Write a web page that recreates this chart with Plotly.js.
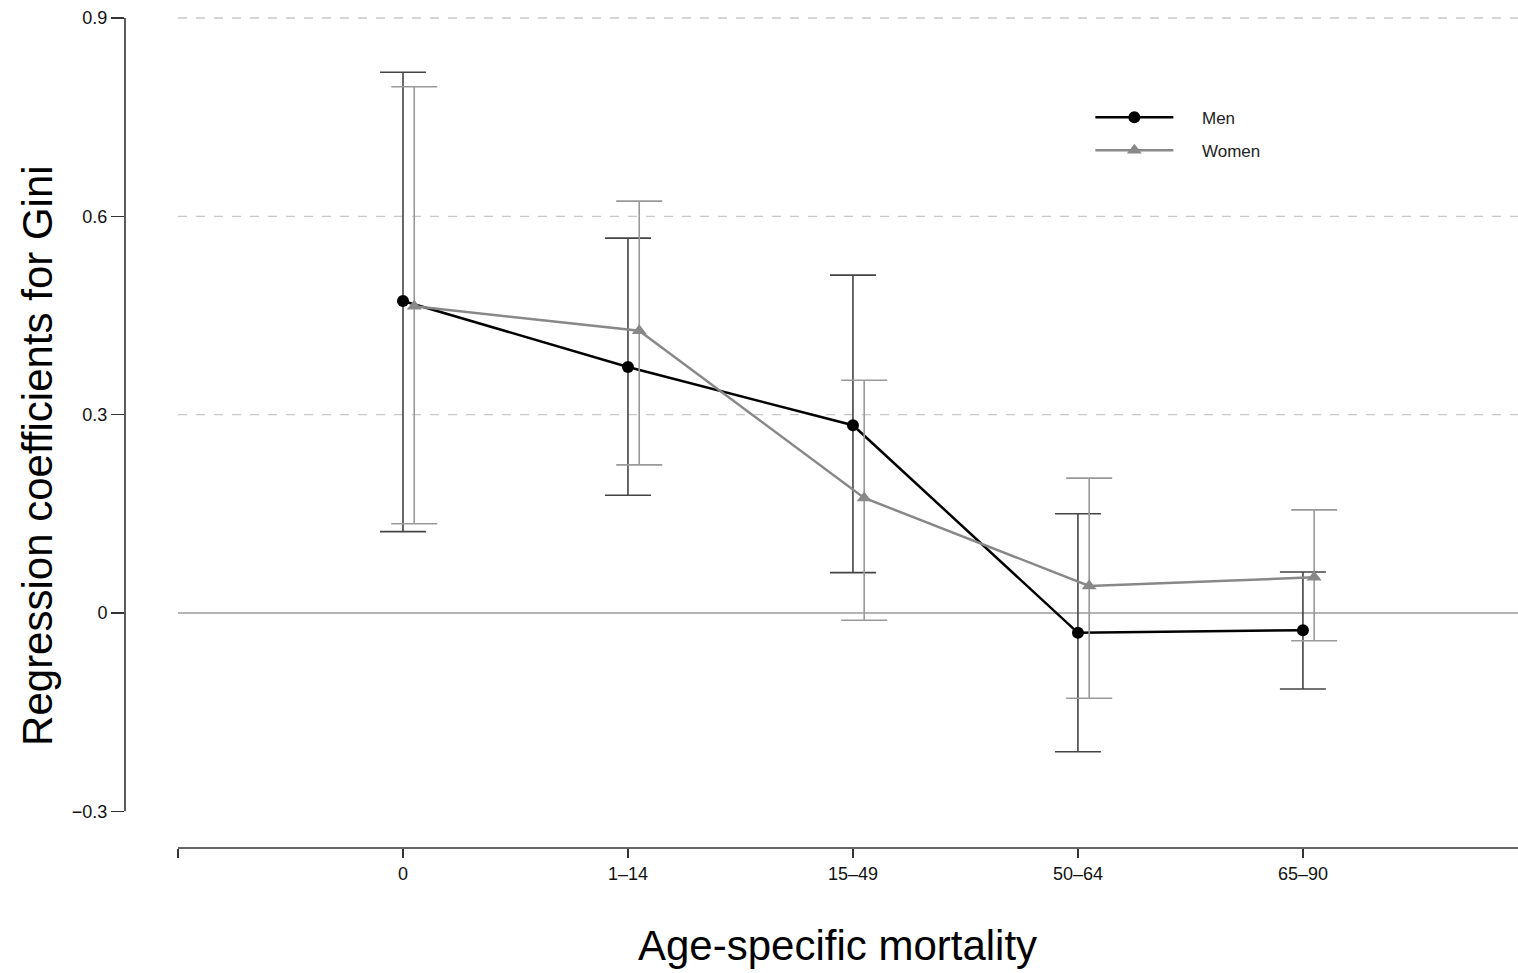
<!DOCTYPE html>
<html>
<head>
<meta charset="utf-8">
<script src="https://cdn.plot.ly/plotly-3.0.1.min.js"></script>
<style>html,body{margin:0;padding:0;background:#fff;}#chart{width:1518px;height:973px;}</style>
</head>
<body>
<div id="chart"></div>
<script>
// Categories (age groups)
const categories = ["0", "1\u201314", "15\u201349", "50\u201364", "65\u201390"];

// Men: coefficient, upper and lower 95% bounds
const menCoef  = [0.472, 0.372, 0.284, -0.030, -0.026];
const menUpper = [0.818, 0.567, 0.511, 0.150, 0.062];
const menLower = [0.123, 0.178, 0.061, -0.210, -0.115];

// Women: coefficient, upper and lower bounds
const womenCoef  = [0.464, 0.427, 0.174, 0.041, 0.054];
const womenUpper = [0.796, 0.623, 0.352, 0.204, 0.156];
const womenLower = [0.135, 0.224, -0.011, -0.129, -0.042];

// Y tick values / labels
const yTicks = [-0.3, 0, 0.3, 0.6, 0.9];
const yTickText = ["\u22120.3", "0", "0.3", "0.6", "0.9"];
const gridLevels = [0.3, 0.6, 0.9];

// Titles
const xTitle = "Age-specific mortality";
const yTitle = "Regression coefficients for Gini";

const idx = categories.map((c, i) => i);
const womenOffset = 0.05;
const xMin = -1.2356, xMax = 4.956;
const font = "Liberation Sans, Arial, Helvetica, sans-serif";
const pad = "\u00a0\u00a0\u00a0\u00a0\u00a0";

const men = {
  x: idx, y: menCoef, name: pad + "Men", legendgroup: "m", type: "scatter", mode: "lines+markers",
  line: {color: "#000", width: 2.5},
  marker: {symbol: "circle", size: 12, color: "#000"},
  error_y: {type: "data", symmetric: false,
    array: menUpper.map((u, i) => u - menCoef[i]),
    arrayminus: menCoef.map((c, i) => c - menLower[i]),
    color: "#444", thickness: 1.6, width: 23}
};
const women = {
  x: idx.map(i => i + womenOffset), y: womenCoef, name: pad + "Women", legendgroup: "w", type: "scatter", mode: "lines+markers",
  line: {color: "#888", width: 2.5},
  marker: {symbol: "triangle-up", size: 13, color: "#888"},
  error_y: {type: "data", symmetric: false,
    array: womenUpper.map((u, i) => u - womenCoef[i]),
    arrayminus: womenCoef.map((c, i) => c - womenLower[i]),
    color: "#999", thickness: 1.6, width: 23}
};

const shapes = [];
gridLevels.forEach(g => shapes.push({type: "line", xref: "x", yref: "y", x0: -1, x1: xMax, y0: g, y1: g,
  line: {color: "#c8c8c8", width: 1.3, dash: "dash"}, layer: "below"}));
shapes.push({type: "line", xref: "x", yref: "y", x0: -1, x1: xMax, y0: 0, y1: 0,
  line: {color: "#b4b4b4", width: 1.8}, layer: "below"});
// y axis line
shapes.push({type: "line", xref: "paper", yref: "y", x0: 0, x1: 0, y0: yTicks[0], y1: yTicks[yTicks.length - 1],
  line: {color: "#333", width: 1.6}});
// x axis line
shapes.push({type: "line", xref: "x", yref: "paper", x0: -1, x1: xMax, y0: 0, y1: 0,
  line: {color: "#333", width: 1.6}});

const layout = {
  width: 1518, height: 973,
  margin: {l: 125, r: 0, t: 10, b: 125},
  paper_bgcolor: "#fff", plot_bgcolor: "#fff",
  showlegend: true,
  legend: {x: 0.693, y: 0.893, xanchor: "left", yanchor: "top", bgcolor: "rgba(0,0,0,0)",
    font: {family: font, size: 17, color: "#222"}, itemwidth: 78, tracegroupgap: 8},
  xaxis: {range: [xMin, xMax], showgrid: false, zeroline: false, showline: false,
    tickvals: [-1].concat(idx), ticktext: [""].concat(categories),
    ticks: "outside", ticklen: 9, tickwidth: 1.6, tickcolor: "#333",
    tickfont: {family: font, size: 18, color: "#111"}},
  yaxis: {range: [-0.3555, 0.9121], showgrid: false, zeroline: false, showline: false,
    tickvals: yTicks, ticktext: yTickText,
    ticks: "outside", ticklen: 13, tickwidth: 1.6, tickcolor: "#333",
    tickfont: {family: font, size: 18, color: "#111"}},
  annotations: [
    {text: xTitle, xref: "paper", yref: "paper", x: 0.5118, y: -0.1158, xanchor: "center", yanchor: "middle",
     showarrow: false, font: {family: font, size: 42, color: "#000"}},
    {text: yTitle, xref: "paper", yref: "paper", x: -0.0625, y: 0.469, xanchor: "center", yanchor: "middle",
     textangle: -90, showarrow: false, font: {family: font, size: 42, color: "#000"}}
  ],
  shapes: shapes
};

Plotly.newPlot("chart", [men, women], layout, {displayModeBar: false, staticPlot: true});
</script>
</body>
</html>
